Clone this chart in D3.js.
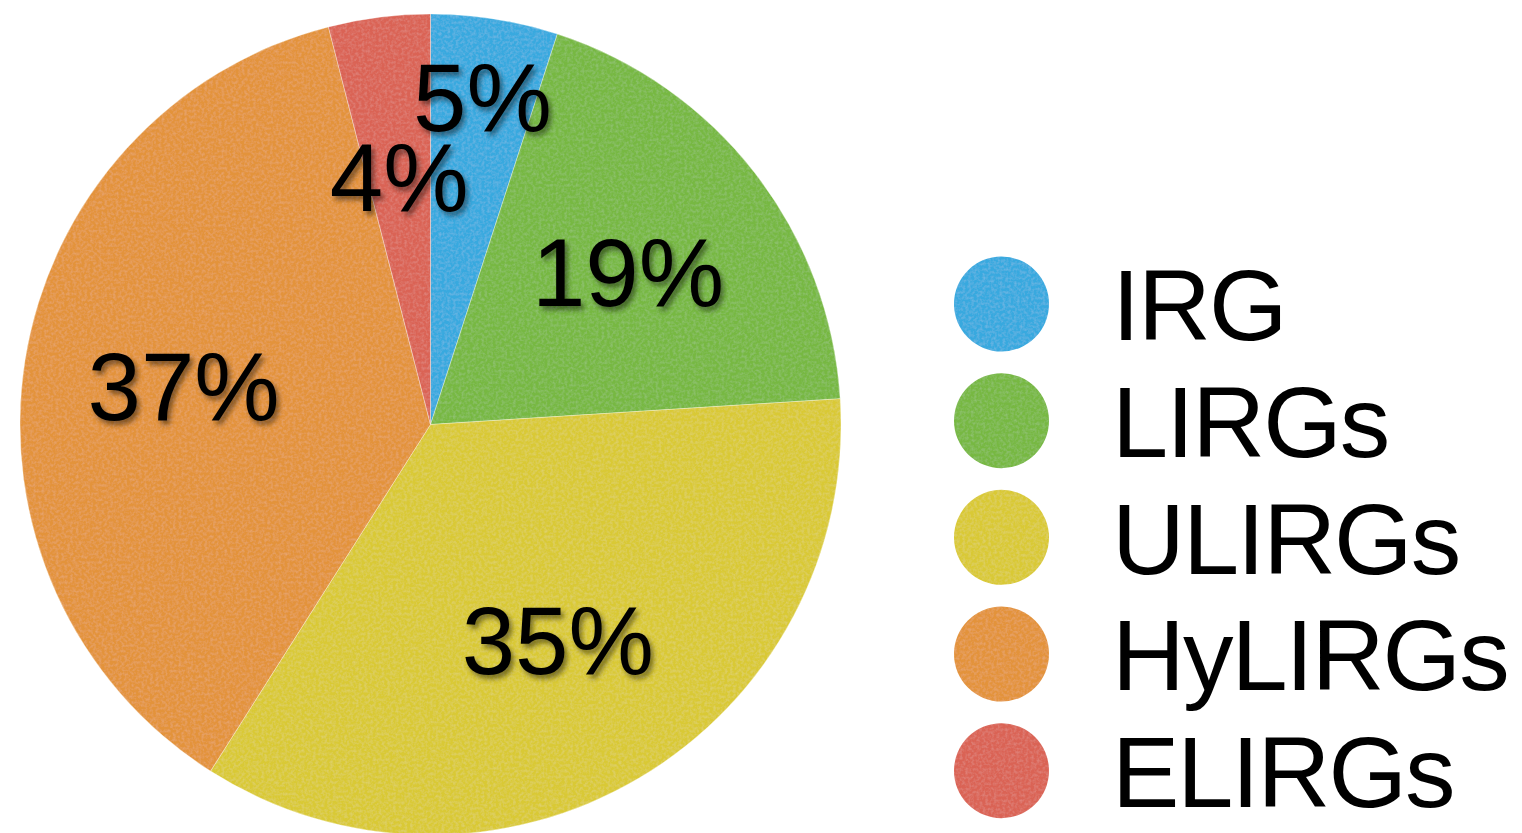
<!DOCTYPE html>
<html>
<head>
<meta charset="utf-8">
<script src="https://cdn.jsdelivr.net/npm/d3@7/dist/d3.min.js"></script>
<style>
  html, body { margin: 0; padding: 0; background: #fff; }
  svg { display: block; }
</style>
</head>
<body>
<svg id="chart" width="1522" height="833"></svg>
<script>
// Share of sources per infrared luminosity class (percent)
const categories = ["IRG", "LIRGs", "ULIRGs", "HyLIRGs", "ELIRGs"];
const shares = [5, 19, 35, 37, 4];
const sliceColors = ["#37a9df", "#77b843", "#d9c934", "#e3933a", "#da6455"];

const W = 1522, H = 833;
const cx = 430.5, cy = 424.5, R = 410.5;
const labelFont = 96, legendFont = 101;

const svg = d3.select("#chart");
const defs = svg.append("defs");

// Soft drop shadow behind the percentage labels
const shadow = defs.append("filter").attr("id", "shadow")
  .attr("x", "-20%").attr("y", "-20%").attr("width", "140%").attr("height", "140%");
shadow.append("feDropShadow")
  .attr("dx", 3).attr("dy", 4).attr("stdDeviation", 2.5)
  .attr("flood-color", "#000").attr("flood-opacity", 0.45);

// Fine paper-like grain on the coloured fills
const grain = defs.append("filter").attr("id", "grain")
  .attr("x", 0).attr("y", 0).attr("width", "100%").attr("height", "100%");
grain.append("feTurbulence").attr("type", "fractalNoise")
  .attr("baseFrequency", 0.35).attr("numOctaves", 2).attr("seed", 7).attr("result", "noise");
grain.append("feColorMatrix").attr("in", "noise").attr("type", "matrix")
  .attr("values", "0 0 0 0 1  0 0 0 0 1  0 0 0 0 1  0 0 0 0.9 -0.35")
  .attr("result", "speck");
grain.append("feComposite").attr("in", "speck").attr("in2", "SourceGraphic")
  .attr("operator", "in").attr("result", "speckIn");
grain.append("feComponentTransfer").attr("in", "speckIn").attr("result", "speckSoft")
  .append("feFuncA").attr("type", "linear").attr("slope", 0.25);
const merge = grain.append("feMerge");
merge.append("feMergeNode").attr("in", "SourceGraphic");
merge.append("feMergeNode").attr("in", "speckSoft");

const color = d3.scaleOrdinal().domain(categories).range(sliceColors);

const pie = d3.pie().sort(null).value(d => d.value);
const data = categories.map((c, i) => ({ name: c, value: shares[i] }));
const arcs = pie(data);

const arc = d3.arc().innerRadius(0).outerRadius(R);

const g = svg.append("g").attr("transform", `translate(${cx},${cy})`);

g.append("g").attr("filter", "url(#grain)")
  .selectAll("path").data(arcs).join("path")
  .attr("d", arc)
  .attr("fill", d => color(d.data.name))
  .attr("stroke", "rgba(255,255,255,0.35)")
  .attr("stroke-width", 1);

// Percentage labels; the narrow IRG wedge carries its label further out
const labelArc = d3.arc().innerRadius(250).outerRadius(250);
const outerLabelArc = d3.arc().innerRadius(332).outerRadius(332);
const capShift = labelFont * 0.716 / 2;

g.append("g").attr("filter", "url(#shadow)")
  .selectAll("text").data(arcs).join("text")
  .attr("transform", d => {
    const [x, y] = (d.data.name === "IRG" ? outerLabelArc : labelArc).centroid(d);
    return `translate(${x},${y + capShift})`;
  })
  .attr("text-anchor", "middle")
  .attr("font-family", "Liberation Sans, Arial, Helvetica, sans-serif")
  .attr("font-size", labelFont)
  .attr("fill", "#000")
  .text(d => d3.format(".0f")(d.value) + "%");

// Legend
const legendY = d3.scalePoint().domain(categories).range([304, 770.7]);
const legend = svg.append("g");
legend.append("g").attr("filter", "url(#grain)")
  .selectAll("circle").data(categories).join("circle")
  .attr("cx", 1001.5)
  .attr("cy", d => legendY(d))
  .attr("r", 47.5)
  .attr("fill", d => color(d));

legend.selectAll("text").data(categories).join("text")
  .attr("x", 1112)
  .attr("y", d => legendY(d) + legendFont * 0.716 / 2)
  .attr("font-family", "Liberation Sans, Arial, Helvetica, sans-serif")
  .attr("font-size", legendFont)
  .attr("letter-spacing", -2)
  .attr("fill", "#000")
  .text(d => d);
</script>
</body>
</html>
